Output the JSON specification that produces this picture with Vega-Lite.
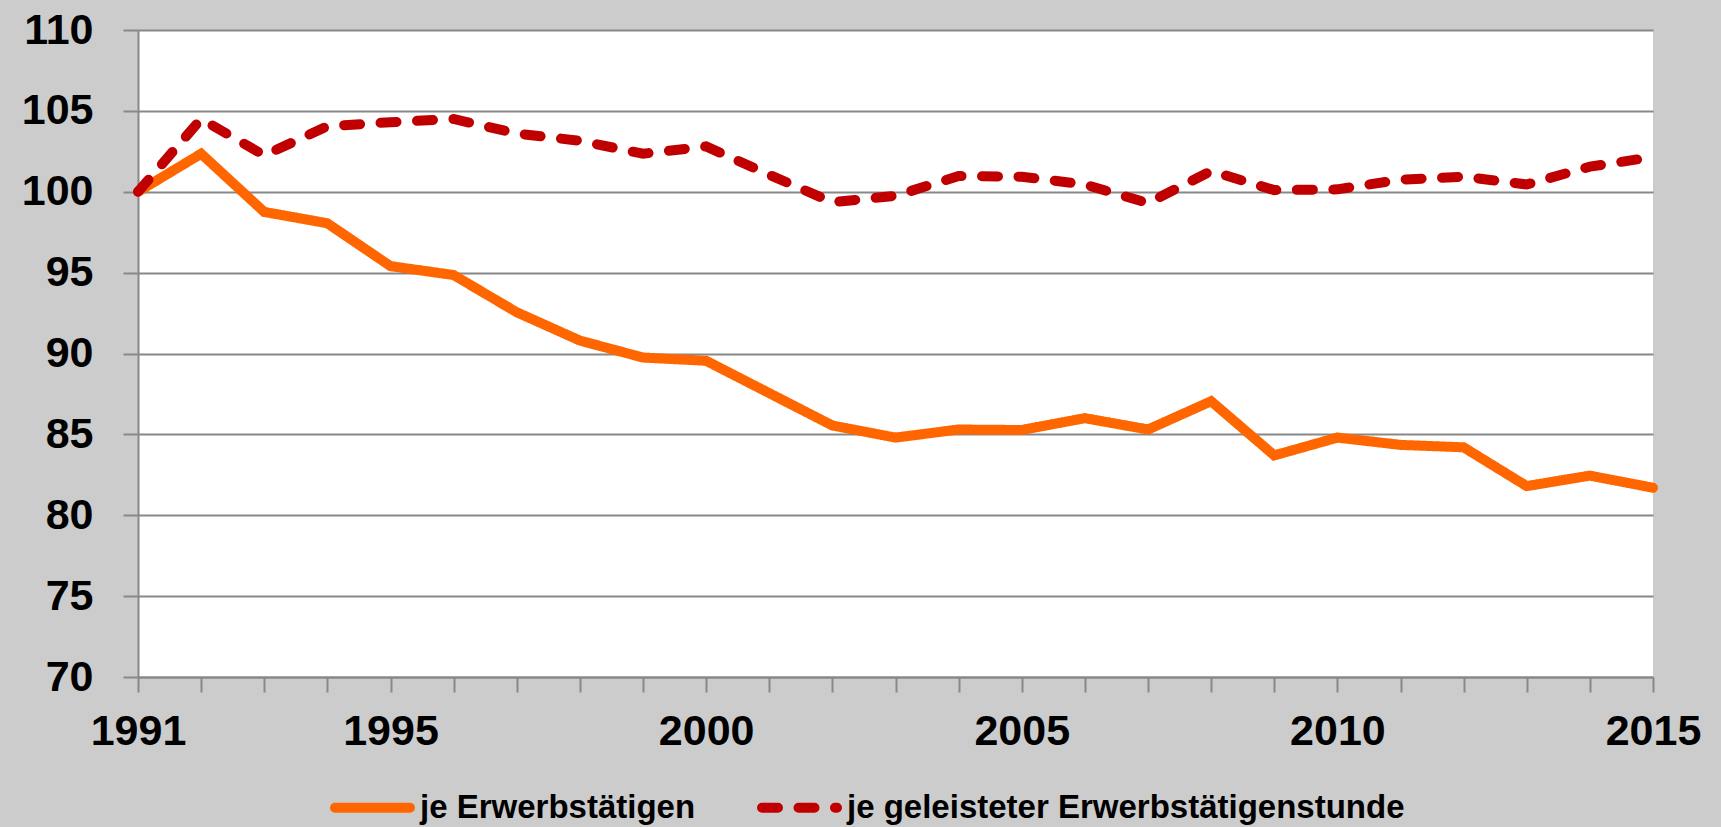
{
  "$schema": "https://vega.github.io/schema/vega-lite/v6.json",
  "width": 1515,
  "height": 647,
  "autosize": "none",
  "padding": {"left": 138, "top": 30, "right": 68, "bottom": 150},
  "background": "#CCCCCC",
  "config": {
    "view": {"fill": "white", "stroke": null},
    "font": "Liberation Sans"
  },
  "data": {
    "values": [
      {"year": 1991, "series": "je Erwerbstätigen", "value": 100},
      {"year": 1992, "series": "je Erwerbstätigen", "value": 102.35},
      {"year": 1993, "series": "je Erwerbstätigen", "value": 98.75},
      {"year": 1994, "series": "je Erwerbstätigen", "value": 98.05},
      {"year": 1995, "series": "je Erwerbstätigen", "value": 95.4},
      {"year": 1996, "series": "je Erwerbstätigen", "value": 94.85},
      {"year": 1997, "series": "je Erwerbstätigen", "value": 92.55},
      {"year": 1998, "series": "je Erwerbstätigen", "value": 90.8},
      {"year": 1999, "series": "je Erwerbstätigen", "value": 89.75},
      {"year": 2000, "series": "je Erwerbstätigen", "value": 89.55},
      {"year": 2001, "series": "je Erwerbstätigen", "value": 87.55},
      {"year": 2002, "series": "je Erwerbstätigen", "value": 85.55},
      {"year": 2003, "series": "je Erwerbstätigen", "value": 84.8},
      {"year": 2004, "series": "je Erwerbstätigen", "value": 85.3},
      {"year": 2005, "series": "je Erwerbstätigen", "value": 85.27},
      {"year": 2006, "series": "je Erwerbstätigen", "value": 86.0},
      {"year": 2007, "series": "je Erwerbstätigen", "value": 85.3},
      {"year": 2008, "series": "je Erwerbstätigen", "value": 87.05},
      {"year": 2009, "series": "je Erwerbstätigen", "value": 83.7},
      {"year": 2010, "series": "je Erwerbstätigen", "value": 84.8},
      {"year": 2011, "series": "je Erwerbstätigen", "value": 84.35},
      {"year": 2012, "series": "je Erwerbstätigen", "value": 84.2},
      {"year": 2013, "series": "je Erwerbstätigen", "value": 81.8},
      {"year": 2014, "series": "je Erwerbstätigen", "value": 82.45},
      {"year": 2015, "series": "je Erwerbstätigen", "value": 81.7},
      {"year": 1991, "series": "je geleisteter Erwerbstätigenstunde", "value": 100},
      {"year": 1992, "series": "je geleisteter Erwerbstätigenstunde", "value": 104.5},
      {"year": 1993, "series": "je geleisteter Erwerbstätigenstunde", "value": 102.25},
      {"year": 1994, "series": "je geleisteter Erwerbstätigenstunde", "value": 104.05},
      {"year": 1995, "series": "je geleisteter Erwerbstätigenstunde", "value": 104.3},
      {"year": 1996, "series": "je geleisteter Erwerbstätigenstunde", "value": 104.5},
      {"year": 1997, "series": "je geleisteter Erwerbstätigenstunde", "value": 103.6},
      {"year": 1998, "series": "je geleisteter Erwerbstätigenstunde", "value": 103.15},
      {"year": 1999, "series": "je geleisteter Erwerbstätigenstunde", "value": 102.35},
      {"year": 2000, "series": "je geleisteter Erwerbstätigenstunde", "value": 102.8},
      {"year": 2001, "series": "je geleisteter Erwerbstätigenstunde", "value": 101.05},
      {"year": 2002, "series": "je geleisteter Erwerbstätigenstunde", "value": 99.35},
      {"year": 2003, "series": "je geleisteter Erwerbstätigenstunde", "value": 99.75},
      {"year": 2004, "series": "je geleisteter Erwerbstätigenstunde", "value": 100.97},
      {"year": 2005, "series": "je geleisteter Erwerbstätigenstunde", "value": 100.93},
      {"year": 2006, "series": "je geleisteter Erwerbstätigenstunde", "value": 100.45},
      {"year": 2007, "series": "je geleisteter Erwerbstätigenstunde", "value": 99.3},
      {"year": 2008, "series": "je geleisteter Erwerbstätigenstunde", "value": 101.28},
      {"year": 2009, "series": "je geleisteter Erwerbstätigenstunde", "value": 100.1},
      {"year": 2010, "series": "je geleisteter Erwerbstätigenstunde", "value": 100.15},
      {"year": 2011, "series": "je geleisteter Erwerbstätigenstunde", "value": 100.75},
      {"year": 2012, "series": "je geleisteter Erwerbstätigenstunde", "value": 100.93},
      {"year": 2013, "series": "je geleisteter Erwerbstätigenstunde", "value": 100.45},
      {"year": 2014, "series": "je geleisteter Erwerbstätigenstunde", "value": 101.55},
      {"year": 2015, "series": "je geleisteter Erwerbstätigenstunde", "value": 102.15}
    ]
  },
  "mark": {"type": "line", "strokeWidth": 10, "strokeCap": "round", "clip": false},
  "encoding": {
    "x": {
      "field": "year",
      "type": "quantitative",
      "scale": {"domain": [1991, 2015], "nice": false, "zero": false},
      "axis": {
        "title": null,
        "values": [1991,1992,1993,1994,1995,1996,1997,1998,1999,2000,2001,2002,2003,2004,2005,2006,2007,2008,2009,2010,2011,2012,2013,2014,2015],
        "labelExpr": "indexof([1991,1995,2000,2005,2010,2015], datum.value) >= 0 ? format(datum.value, 'd') : ''",
        "grid": false,
        "domainColor": "#888888",
        "domainWidth": 2,
        "tickColor": "#888888",
        "tickWidth": 2,
        "tickSize": 15,
        "labelFontSize": 43,
        "labelFontWeight": "bold",
        "labelColor": "black",
        "labelPadding": 18,
        "labelFlush": false,
        "labelOverlap": false
      }
    },
    "y": {
      "field": "value",
      "type": "quantitative",
      "scale": {"domain": [70, 110], "nice": false, "zero": false},
      "axis": {
        "title": null,
        "values": [70, 75, 80, 85, 90, 95, 100, 105, 110],
        "grid": true,
        "gridColor": "#888888",
        "gridWidth": 2,
        "domainColor": "#888888",
        "domainWidth": 2,
        "tickColor": "#888888",
        "tickWidth": 2,
        "tickSize": 15,
        "labelFontSize": 43,
        "labelFontWeight": "bold",
        "labelColor": "black",
        "labelPadding": 30,
        "labelFlush": false,
        "labelOverlap": false
      }
    },
    "color": {
      "field": "series",
      "type": "nominal",
      "scale": {
        "domain": ["je Erwerbstätigen", "je geleisteter Erwerbstätigenstunde"],
        "range": ["#FF6600", "#C00000"]
      },
      "legend": {
        "title": null,
        "orient": "none",
        "direction": "horizontal",
        "legendX": 192,
        "legendY": 735,
        "symbolType": "stroke",
        "symbolSize": 5625,
        "symbolStrokeWidth": 10,
        "labelFontSize": 33,
        "labelFontWeight": "bold",
        "labelColor": "black",
        "labelOffset": 5,
        "columnPadding": 46,
        "labelLimit": 1000,
        "encode": {
          "symbols": {
            "update": {
              "strokeDash": {"signal": "datum.value == 'je Erwerbstätigen' ? [1, 0] : [30, 14]"},
              "strokeCap": {"value": "round"}
            }
          }
        }
      }
    },
    "strokeDash": {
      "field": "series",
      "type": "nominal",
      "scale": {
        "domain": ["je Erwerbstätigen", "je geleisteter Erwerbstätigenstunde"],
        "range": [[1, 0], [16, 20.5]]
      },
      "legend": {
        "title": null,
        "orient": "none",
        "direction": "horizontal",
        "legendX": 192,
        "legendY": 735,
        "symbolType": "stroke",
        "symbolSize": 5625,
        "symbolStrokeWidth": 10,
        "labelFontSize": 33,
        "labelFontWeight": "bold",
        "labelColor": "black",
        "labelOffset": 5,
        "columnPadding": 46,
        "labelLimit": 1000,
        "encode": {
          "symbols": {
            "update": {
              "strokeDash": {"signal": "datum.value == 'je Erwerbstätigen' ? [1, 0] : [30, 14]"},
              "strokeCap": {"value": "round"}
            }
          }
        }
      }
    }
  }
}
